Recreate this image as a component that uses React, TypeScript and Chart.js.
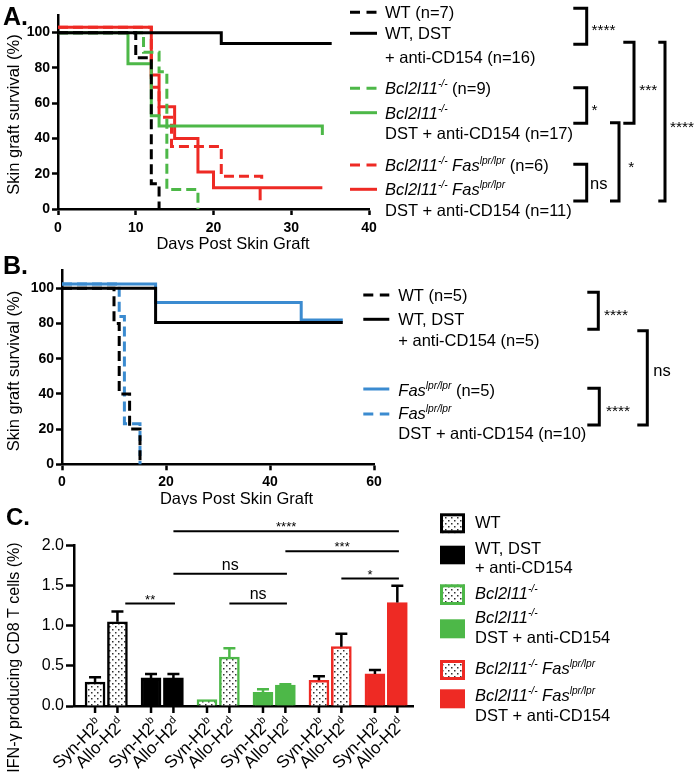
import React, { useEffect, useRef } from 'react';
import { Chart, registerables } from 'chart.js';
Chart.register(...registerables);

const FONT = "'Liberation Sans', Arial, Helvetica, sans-serif";
const BLACK = '#000000';
const GREEN = '#4DB848';
const RED = '#EE2A24';
const BLUE = '#3B8BD0';

// ---------- Panel A (Kaplan-Meier) ----------
const A_X_TICKS = [0, 10, 20, 30, 40];
const KM_Y_TICKS = [0, 20, 40, 60, 80, 100];
const A_WT_DAYS = [0, 10, 12, 13];
const A_WT_SURV = [100, 85.7, 14.3, 0];
const A_WTDST_DAYS = [0, 21, 35.2];
const A_WTDST_SURV = [100, 93.8, 93.8];
const A_BCL_DAYS = [0, 11, 13, 14, 18];
const A_BCL_SURV = [100, 88.9, 77.8, 11.1, 0];
const A_BCLDST_DAYS = [0, 9, 12, 13, 34, 34];
const A_BCLDST_SURV = [100, 82.4, 52.9, 47.1, 47.1, 42];
const A_BF_DAYS = [0, 12, 13, 14.6, 21, 26.2, 26.2];
const A_BF_SURV = [103, 69, 52, 35.5, 18.5, 18.5, 15.5];
const A_BFDST_DAYS = [0, 12, 13, 15, 18, 20, 26, 26, 26, 34];
const A_BFDST_SURV = [103, 76, 58, 40, 21, 12, 12, 5, 12, 12];

// ---------- Panel B (Kaplan-Meier) ----------
const B_X_TICKS = [0, 20, 40, 60];
const B_WT_DAYS = [0, 10, 11, 13, 15];
const B_WT_SURV = [100, 80, 40, 20, 0];
const B_WTDST_DAYS = [0, 18, 54];
const B_WTDST_SURV = [100, 80.5, 80.5];
const B_FAS_DAYS = [0, 18, 46, 54];
const B_FAS_SURV = [102.5, 92, 82, 82];
const B_FASDST_DAYS = [0, 11, 12, 15];
const B_FASDST_SURV = [102.5, 84, 23, 0];

// ---------- Panel C (bars) ----------
const C_GROUPS = ['WT', 'WT, DST + anti-CD154', 'Bcl2l11-/-', 'Bcl2l11-/- DST + anti-CD154', 'Bcl2l11-/- Faslpr/lpr', 'Bcl2l11-/- Faslpr/lpr DST + anti-CD154'];
const C_GROUP_COLORS = [BLACK, BLACK, GREEN, GREEN, RED, RED];
const C_GROUP_DOTTED = [true, false, true, false, true, false];
const C_STIM = ['Syn-H2', 'Allo-H2'];
const C_STIM_SUP = ['b', 'd'];
const C_MEANS = [0.30, 1.05, 0.35, 0.35, 0.08, 0.61, 0.17, 0.26, 0.32, 0.74, 0.40, 1.29];
const C_SEM = [0.06, 0.13, 0.05, 0.05, 0, 0.11, 0.04, 0.01, 0.05, 0.16, 0.05, 0.21];
const C_Y_TICKS = [0, 0.5, 1, 1.5, 2];
// comparisons: [bar index a, bar index b, level, label]
const C_COMPARE: [number, number, number, string][] = [
  [1, 3, 1.28, '**'],
  [5, 7, 1.28, 'ns'],
  [3, 7, 1.65, 'ns'],
  [9, 11, 1.59, '*'],
  [7, 11, 1.93, '***'],
  [3, 11, 2.18, '****'],
];

type Seg = { t: string; i?: boolean; s?: boolean; b?: boolean };

function fnt(s: Seg, size: number) {
  const sz = s.s ? size * 0.62 : size;
  return `${s.i ? 'italic ' : ''}${s.b ? 'bold ' : ''}${sz}px ${FONT}`;
}

function rich(ctx: CanvasRenderingContext2D, x: number, cy: number, segs: Seg[], size: number, align: 'left' | 'right' | 'center' = 'left') {
  const base = cy + 0.36 * size;
  const ws: number[] = [];
  let total = 0;
  for (const s of segs) {
    ctx.font = fnt(s, size);
    const w = ctx.measureText(s.t).width;
    ws.push(w);
    total += w;
  }
  let cx = align === 'right' ? x - total : align === 'center' ? x - total / 2 : x;
  ctx.textAlign = 'left';
  ctx.textBaseline = 'alphabetic';
  segs.forEach((s, i) => {
    ctx.font = fnt(s, size);
    ctx.fillText(s.t, cx, s.s ? base - 0.42 * size : base);
    cx += ws[i];
  });
}

function rotatedText(ctx: CanvasRenderingContext2D, x: number, y: number, text: string, size: number) {
  ctx.save();
  ctx.translate(x, y);
  ctx.rotate(-Math.PI / 2);
  ctx.fillStyle = '#000';
  rich(ctx, 0, 0, [{ t: text }], size, 'center');
  ctx.restore();
}

function stars(ctx: CanvasRenderingContext2D, x: number, cy: number, t: string, size: number, align: 'left' | 'center' = 'left') {
  ctx.font = `${size}px ${FONT}`;
  ctx.textAlign = align;
  ctx.textBaseline = 'alphabetic';
  ctx.fillText(t, x, cy + 0.55 * size);
}

function bracket(ctx: CanvasRenderingContext2D, xl: number, xv: number, y1: number, y2: number) {
  ctx.save();
  ctx.strokeStyle = '#000';
  ctx.lineWidth = 3;
  ctx.lineJoin = 'miter';
  ctx.beginPath();
  ctx.moveTo(xl, y1);
  ctx.lineTo(xv, y1);
  ctx.lineTo(xv, y2);
  ctx.lineTo(xl, y2);
  ctx.stroke();
  ctx.restore();
}

function sample(ctx: CanvasRenderingContext2D, x1: number, x2: number, y: number, color: string, dashed: boolean) {
  ctx.save();
  ctx.strokeStyle = color;
  ctx.lineWidth = 3;
  if (dashed) ctx.setLineDash([10, 6.5]);
  ctx.beginPath();
  ctx.moveTo(x1, y);
  ctx.lineTo(x2, y);
  ctx.stroke();
  ctx.restore();
}

const BCL: Seg[] = [{ t: 'Bcl2l11', i: true }, { t: '-/-', i: true, s: true }];
const FAS: Seg[] = [{ t: 'Fas', i: true }, { t: 'lpr/lpr', i: true, s: true }];

function kmDataset(days: number[], surv: number[], color: string, dashed: boolean) {
  return {
    data: days.map((d, i) => ({ x: d, y: surv[i] })),
    borderColor: color,
    borderWidth: 3,
    borderDash: dashed ? [10, 5] : [],
    stepped: 'before' as const,
    pointRadius: 0,
    fill: false,
    clip: false as any,
    borderCapStyle: 'butt' as const,
    borderJoinStyle: 'miter' as const,
  };
}

function kmOptions(xMax: number, xTicks: number[], yWidth: number, xHeight: number, pad: any, xTickPad: number) {
  const tickFont = { family: FONT, size: 14, weight: 'bold' as const };
  const grid = { drawOnChartArea: false, drawTicks: true, tickLength: 6, tickWidth: 2.5, tickColor: '#000' };
  const border = { display: true, color: '#000', width: 2.5 };
  return {
    responsive: false,
    animation: false as const,
    devicePixelRatio: 1,
    events: [] as any[],
    layout: { padding: pad },
    plugins: { legend: { display: false }, tooltip: { enabled: false } },
    scales: {
      x: {
        type: 'linear' as const, min: 0, max: xMax,
        afterBuildTicks: (s: any) => { s.ticks = xTicks.map((v) => ({ value: v })); },
        afterFit: (s: any) => { s.height = xHeight; },
        ticks: { font: tickFont, color: '#000', padding: xTickPad, maxRotation: 0, autoSkip: false },
        grid, border,
      },
      y: {
        type: 'linear' as const, min: 0, max: 110,
        afterBuildTicks: (s: any) => { s.ticks = KM_Y_TICKS.map((v) => ({ value: v })); },
        afterFit: (s: any) => { s.width = yWidth; },
        ticks: { font: tickFont, color: '#000', padding: 2 },
        grid, border,
      },
    },
  };
}

function makeA(canvas: HTMLCanvasElement) {
  const top = 0;
  const plugin = {
    id: 'decorA',
    afterDraw(chart: any) {
      const ctx: CanvasRenderingContext2D = chart.ctx;
      ctx.save();
      ctx.translate(0, -top);
      ctx.fillStyle = '#000';
      rich(ctx, 3, 16, [{ t: 'A.', b: true }], 25);
      rotatedText(ctx, 13.5, 114.5, 'Skin graft survival (%)', 16.5);
      rich(ctx, 233, 243.3, [{ t: 'Days Post Skin Graft' }], 16.5, 'center');
      // legend
      const fs = 16.5;
      const sx1 = 350, sx2 = 377, tx = 385;
      sample(ctx, sx1, sx2, 12.3, BLACK, true);
      sample(ctx, sx1, sx2, 33.3, BLACK, false);
      sample(ctx, sx1, sx2, 88.3, GREEN, true);
      sample(ctx, sx1, sx2, 112.7, GREEN, false);
      sample(ctx, sx1, sx2, 165, RED, true);
      sample(ctx, sx1, sx2, 189.3, RED, false);
      ctx.fillStyle = '#000';
      rich(ctx, tx, 12.3, [{ t: 'WT (n=7)' }], fs);
      rich(ctx, tx, 33.3, [{ t: 'WT, DST' }], fs);
      rich(ctx, tx, 56.7, [{ t: '+ anti-CD154 (n=16)' }], fs);
      rich(ctx, tx, 88.3, [...BCL, { t: ' (n=9)' }], fs);
      rich(ctx, tx, 112.7, [...BCL], fs);
      rich(ctx, tx, 133.3, [{ t: 'DST + anti-CD154 (n=17)' }], fs);
      rich(ctx, tx, 165, [...BCL, { t: ' ' }, ...FAS, { t: ' (n=6)' }], fs);
      rich(ctx, tx, 189.3, [...BCL, { t: ' ' }, ...FAS], fs);
      rich(ctx, tx, 210, [{ t: 'DST + anti-CD154 (n=11)' }], fs);
      // brackets
      bracket(ctx, 573.3, 586.7, 8.3, 44.3);
      stars(ctx, 591.5, 26.7, '****', 15.5);
      bracket(ctx, 573.3, 586.7, 87.7, 123.3);
      stars(ctx, 591.5, 106.7, '*', 15.5);
      bracket(ctx, 573.3, 586.7, 164.3, 201);
      rich(ctx, 590, 182.7, [{ t: 'ns' }], fs);
      bracket(ctx, 623.3, 634, 42.3, 123.3);
      stars(ctx, 639.3, 86.7, '***', 15.5);
      bracket(ctx, 610, 619, 122.7, 201);
      stars(ctx, 628.3, 163.3, '*', 15.5);
      bracket(ctx, 658.3, 665, 42.3, 201);
      stars(ctx, 670, 123.3, '****', 15.5);
      ctx.restore();
    },
  };
  return new Chart(canvas, {
    type: 'line',
    data: {
      datasets: [
        kmDataset(A_WTDST_DAYS, A_WTDST_SURV, BLACK, false),
        kmDataset(A_WT_DAYS, A_WT_SURV, BLACK, true),
        kmDataset(A_BCLDST_DAYS, A_BCLDST_SURV, GREEN, false),
        kmDataset(A_BCL_DAYS, A_BCL_SURV, GREEN, true),
        kmDataset(A_BFDST_DAYS, A_BFDST_SURV, RED, false),
        kmDataset(A_BF_DAYS, A_BF_SURV, RED, true),
      ] as any,
    },
    options: kmOptions(40, A_X_TICKS, 58, 41, { left: 0, right: 327, top: 15, bottom: 0 }, 5) as any,
    plugins: [plugin],
  });
}

function makeB(canvas: HTMLCanvasElement) {
  const top = 250;
  const plugin = {
    id: 'decorB',
    afterDraw(chart: any) {
      const ctx: CanvasRenderingContext2D = chart.ctx;
      ctx.save();
      ctx.translate(0, -top);
      ctx.fillStyle = '#000';
      rich(ctx, 3, 265, [{ t: 'B.', b: true }], 25);
      rotatedText(ctx, 13.5, 371, 'Skin graft survival (%)', 16.5);
      rich(ctx, 236.5, 498, [{ t: 'Days Post Skin Graft' }], 16.5, 'center');
      const fs = 16.5;
      const sx1 = 363.3, sx2 = 389.3, tx = 398.3;
      sample(ctx, sx1, sx2, 295, BLACK, true);
      sample(ctx, sx1, sx2, 319.3, BLACK, false);
      sample(ctx, sx1, sx2, 389, BLUE, false);
      sample(ctx, sx1, sx2, 414, BLUE, true);
      ctx.fillStyle = '#000';
      rich(ctx, tx, 295, [{ t: 'WT (n=5)' }], fs);
      rich(ctx, tx, 319.3, [{ t: 'WT, DST' }], fs);
      rich(ctx, tx, 340, [{ t: '+ anti-CD154 (n=5)' }], fs);
      rich(ctx, tx, 390, [...FAS, { t: ' (n=5)' }], fs);
      rich(ctx, tx, 413, [...FAS], fs);
      rich(ctx, tx, 433.3, [{ t: 'DST + anti-CD154 (n=10)' }], fs);
      bracket(ctx, 587.3, 598.3, 292.3, 329.3);
      stars(ctx, 604, 311.7, '****', 15.5);
      bracket(ctx, 587.3, 599.3, 388.3, 425);
      stars(ctx, 606, 407.3, '****', 15.5);
      bracket(ctx, 637.3, 647.3, 330.7, 425);
      rich(ctx, 653.3, 370, [{ t: 'ns' }], fs);
      ctx.restore();
    },
  };
  return new Chart(canvas, {
    type: 'line',
    data: {
      datasets: [
        kmDataset(B_WTDST_DAYS, B_WTDST_SURV, BLACK, false),
        kmDataset(B_WT_DAYS, B_WT_SURV, BLACK, true),
        kmDataset(B_FAS_DAYS, B_FAS_SURV, BLUE, false),
        kmDataset(B_FASDST_DAYS, B_FASDST_SURV, BLUE, true),
      ] as any,
    },
    options: kmOptions(60, B_X_TICKS, 62, 40.7, { left: 0, right: 322, top: 20.7, bottom: 0 }, 3) as any,
    plugins: [plugin],
  });
}

function makeDots(): CanvasPattern {
  const c = document.createElement('canvas');
  c.width = 6; c.height = 6;
  const g = c.getContext('2d')!;
  g.fillStyle = '#fff';
  g.fillRect(0, 0, 6, 6);
  g.fillStyle = '#333';
  g.fillRect(1, 1, 1.5, 1.5);
  g.fillRect(4, 4, 1.5, 1.5);
  return g.createPattern(c, 'repeat')!;
}

function makeC(canvas: HTMLCanvasElement) {
  const top = 505;
  const dots = makeDots();
  const pos = C_MEANS.map((_, i) => Math.floor(i / 2) * 2.5 + (i % 2));
  const groupOf = (i: number) => Math.floor(i / 2);
  const bg = C_MEANS.map((_, i) => (C_GROUP_DOTTED[groupOf(i)] ? dots : C_GROUP_COLORS[groupOf(i)]));
  const bc = C_MEANS.map((_, i) => C_GROUP_COLORS[groupOf(i)]);
  const errColor = C_MEANS.map((_, i) => (C_GROUP_COLORS[groupOf(i)] === GREEN ? GREEN : BLACK));

  const plugin = {
    id: 'decorC',
    afterDatasetsDraw(chart: any) {
      const ctx: CanvasRenderingContext2D = chart.ctx;
      const xs = chart.scales.x, ys = chart.scales.y;
      ctx.save();
      ctx.lineWidth = 2.5;
      C_MEANS.forEach((m, i) => {
        if (!C_SEM[i]) return;
        const x = xs.getPixelForValue(pos[i]);
        const y0 = ys.getPixelForValue(m);
        const y1 = ys.getPixelForValue(m + C_SEM[i]);
        ctx.strokeStyle = errColor[i];
        ctx.beginPath();
        ctx.moveTo(x, y0);
        ctx.lineTo(x, y1);
        ctx.moveTo(x - 6, y1);
        ctx.lineTo(x + 6, y1);
        ctx.stroke();
      });
      ctx.restore();
    },
    afterDraw(chart: any) {
      const ctx: CanvasRenderingContext2D = chart.ctx;
      const xs = chart.scales.x, ys = chart.scales.y;
      const axisY = ys.getPixelForValue(0);
      ctx.save();
      // ticks + rotated labels
      ctx.strokeStyle = '#000';
      ctx.lineWidth = 2.5;
      pos.forEach((p, i) => {
        const x = xs.getPixelForValue(p);
        ctx.beginPath();
        ctx.moveTo(x, axisY);
        ctx.lineTo(x, axisY + 7);
        ctx.stroke();
        ctx.save();
        ctx.translate(x + 4, axisY + 15);
        ctx.rotate(-Math.PI / 4);
        ctx.fillStyle = '#000';
        rich(ctx, 0, 0, [{ t: C_STIM[i % 2] }, { t: C_STIM_SUP[i % 2], s: true }], 17, 'right');
        ctx.restore();
      });
      // significance lines
      ctx.lineWidth = 2;
      ctx.fillStyle = '#000';
      C_COMPARE.forEach(([a, b, lvl, lab]) => {
        const xa = xs.getPixelForValue(pos[a] + (lab === '**' ? 0.35 : 0));
        const xb = xs.getPixelForValue(pos[b] + 0.07);
        const y = ys.getPixelForValue(lvl);
        ctx.beginPath();
        ctx.moveTo(xa, y);
        ctx.lineTo(xb, y);
        ctx.stroke();
        if (lab === 'ns') rich(ctx, (xa + xb) / 2, y - 10, [{ t: 'ns' }], 16, 'center');
        else stars(ctx, (xa + xb) / 2, y - 7, lab, 13, 'center');
      });
      ctx.translate(0, -top);
      ctx.fillStyle = '#000';
      rich(ctx, 6, 516.5, [{ t: 'C.', b: true }], 24);
      rotatedText(ctx, 13.5, 657.5, 'IFN-\u03b3 producing CD8 T cells (%)', 16);
      // legend
      const fs = 16.5;
      const boxes: [number, number, number][] = [
        [513.3, 533.3, 0], [545.7, 564.3, 1], [584.3, 605, 2], [619.3, 638.3, 3], [660, 680, 4], [689.3, 708.3, 5],
      ];
      boxes.forEach(([y1, y2, g]) => {
        const col = C_GROUP_COLORS[g];
        if (C_GROUP_DOTTED[g]) {
          ctx.fillStyle = dots;
          ctx.fillRect(440, y1, 25, y2 - y1);
          ctx.strokeStyle = col;
          ctx.lineWidth = 3;
          ctx.strokeRect(441.5, y1 + 1.5, 22, y2 - y1 - 3);
        } else {
          ctx.fillStyle = col;
          ctx.fillRect(440, y1, 25, y2 - y1);
        }
      });
      ctx.fillStyle = '#000';
      const tx = 475;
      rich(ctx, tx, 522.3, [{ t: 'WT' }], fs);
      rich(ctx, tx, 547.7, [{ t: 'WT, DST' }], fs);
      rich(ctx, tx, 567.3, [{ t: '+ anti-CD154' }], fs);
      rich(ctx, tx, 593.3, [...BCL], fs);
      rich(ctx, tx, 617.3, [...BCL], fs);
      rich(ctx, tx, 637.3, [{ t: 'DST + anti-CD154' }], fs);
      rich(ctx, tx, 668.3, [...BCL, { t: ' ' }, ...FAS], fs);
      rich(ctx, tx, 695, [...BCL, { t: ' ' }, ...FAS], fs);
      rich(ctx, tx, 715, [{ t: 'DST + anti-CD154' }], fs);
      ctx.restore();
    },
  };

  return new Chart(canvas, {
    type: 'bar',
    data: {
      datasets: [
        {
          label: 'IFN-gamma',
          data: C_MEANS.map((m, i) => ({ x: pos[i], y: m })) as any,
          backgroundColor: bg as any,
          borderColor: bc,
          borderWidth: 2.5,
          barThickness: 20,
        },
      ],
    },
    options: {
      responsive: false,
      animation: false,
      devicePixelRatio: 1,
      events: [],
      layout: { padding: { left: 0, right: 283, top: 40.7, bottom: 0 } },
      plugins: { legend: { display: false }, tooltip: { enabled: false } },
      scales: {
        x: {
          type: 'linear', min: -0.94, max: 14.2, offset: false,
          afterFit: (s: any) => { s.height = 71; },
          ticks: { display: false },
          grid: { display: false, offset: false },
          border: { display: true, color: '#000', width: 2.5 },
        },
        y: {
          type: 'linear', min: 0, max: 2,
          afterBuildTicks: (s: any) => { s.ticks = C_Y_TICKS.map((v) => ({ value: v })); },
          afterFit: (s: any) => { s.width = 74; },
          ticks: { font: { family: FONT, size: 16 }, color: '#000', padding: 2, callback: (v: any) => Number(v).toFixed(1) },
          grid: { drawOnChartArea: false, drawTicks: true, tickLength: 8, tickWidth: 2.5, tickColor: '#000' },
          border: { display: true, color: '#000', width: 2.5 },
        },
      },
    } as any,
    plugins: [plugin],
  });
}

export default function App() {
  const aRef = useRef<HTMLCanvasElement>(null);
  const bRef = useRef<HTMLCanvasElement>(null);
  const cRef = useRef<HTMLCanvasElement>(null);
  useEffect(() => {
    const charts = [makeA(aRef.current!), makeB(bRef.current!), makeC(cRef.current!)];
    return () => charts.forEach((c) => c.destroy());
  }, []);
  return (
    <div style={{ position: 'absolute', left: 0, top: 0, width: 696, height: 777, background: '#fff', overflow: 'hidden' }}>
      <canvas ref={aRef} width={696} height={250} style={{ position: 'absolute', left: 0, top: 0 }} />
      <canvas ref={bRef} width={696} height={255} style={{ position: 'absolute', left: 0, top: 250 }} />
      <canvas ref={cRef} width={696} height={272} style={{ position: 'absolute', left: 0, top: 505 }} />
    </div>
  );
}
